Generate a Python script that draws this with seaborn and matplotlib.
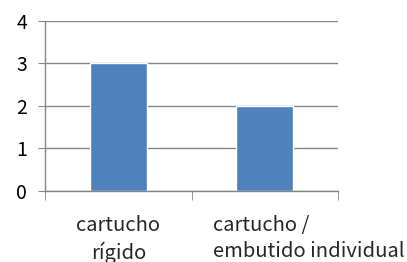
import matplotlib
matplotlib.use("Agg")
import matplotlib.pyplot as plt
import matplotlib.transforms as mtransforms
import seaborn as sns
import pandas as pd

# datos
categorias = ["cartucho\nrígido", "cartucho /\nembutido individual"]
valores = [3, 2]

df = pd.DataFrame({"cat": categorias, "val": valores})

sns.set_style("white")
plt.rcParams['font.family'] = ['Noto Sans CJK JP', 'DejaVu Sans']

fig = plt.figure(figsize=(4.07, 2.62), dpi=100)
ax = fig.add_axes([0.1106, 0.271, 0.7199, 0.649])

sns.barplot(data=df, x="cat", y="val", color="#4F81BD", saturation=1,
            width=0.39, ax=ax)

ax.set_ylim(0, 4)
ax.set_xlim(-0.5, 1.5)
ax.set_yticks([0, 1, 2, 3, 4])
ax.yaxis.grid(True, color="#868686", linewidth=1)
ax.set_axisbelow(True)
ax.set_xlabel("")
ax.set_ylabel("")

for s in ["top", "right"]:
    ax.spines[s].set_visible(False)
for s in ["left", "bottom"]:
    ax.spines[s].set_color("#868686")
    ax.spines[s].set_linewidth(1)

ax.tick_params(axis="y", left=True, length=5, color="#868686", labelsize=14,
               pad=8, labelcolor="black")
ax.set_xticks([-0.5, 0.5, 1.5], minor=True)
ax.tick_params(axis="x", which="minor", bottom=True, length=6.5, color="#868686")
ax.tick_params(axis="x", which="major", bottom=False, length=0, labelsize=14.5,
               pad=17)

labels = ax.get_xticklabels()
for lab in labels:
    lab.set_linespacing(1.35)
labels[1].set_horizontalalignment("left")
labels[1].set_multialignment("left")
off = mtransforms.ScaledTranslation(-52 / 100, 0, fig.dpi_scale_trans)
labels[1].set_transform(labels[1].get_transform() + off)

fig.savefig("out.png", dpi=100)
